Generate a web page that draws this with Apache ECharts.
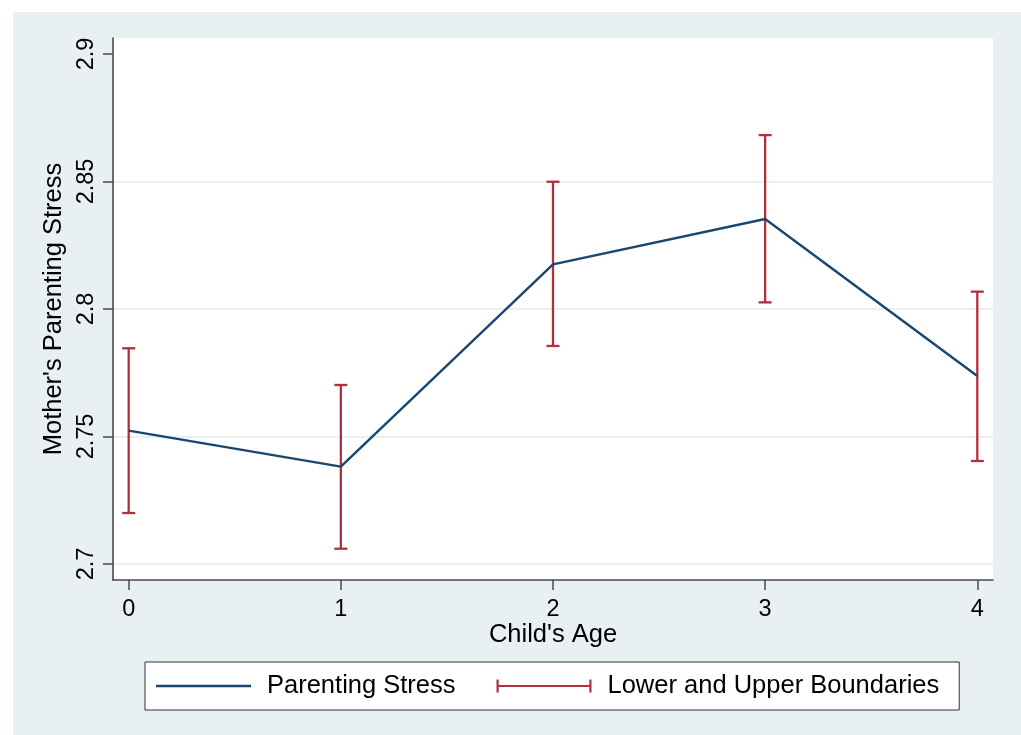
<!DOCTYPE html>
<html><head><meta charset="utf-8">
<script src="https://cdn.jsdelivr.net/npm/echarts@6/dist/echarts.min.js"></script>
<style>html,body{margin:0;padding:0;background:#fff}#c{width:1021px;height:735px}</style>
</head><body><div id="c"></div>
<script>
const ages = [0, 1, 2, 3, 4];
const stress = [2.7523, 2.7382, 2.8175, 2.8353, 2.7737];
const lower = [2.7200, 2.7060, 2.7855, 2.8026, 2.7404];
const upper = [2.7846, 2.7702, 2.8499, 2.8682, 2.8068];
const yTicks = [2.7, 2.75, 2.8, 2.85, 2.9];
const xTicks = [0, 1, 2, 3, 4];

const NAVY = '#1a476f', RED = '#b0303c', AXIS = '#4a4a4a', GRIDC = '#e2ebef', BG = '#e8f0f3';
const FONT = 'Liberation Sans, Arial, sans-serif';

const chart = echarts.init(document.getElementById('c'), null, {renderer: 'canvas'});
chart.setOption({
  animation: false,
  backgroundColor: '#ffffff',
  graphic: [{type: 'rect', silent: true, z: -10, shape: {x: 13, y: 12, width: 1008, height: 723}, style: {fill: BG}}],
  grid: {left: 113, right: 28, top: 38, bottom: 155, show: true, backgroundColor: '#ffffff', borderWidth: 0},
  xAxis: {
    type: 'value', min: -0.074, max: 4.074,
    name: "Child's Age", nameLocation: 'middle', nameGap: 42, nameMoveOverlap: false,
    nameTextStyle: {fontFamily: FONT, fontSize: 25.5, color: '#000'},
    axisLine: {show: true, onZero: false, lineStyle: {color: AXIS, width: 1.6}},
    axisTick: {show: true, length: 10, customValues: xTicks, lineStyle: {color: AXIS, width: 1.5}},
    axisLabel: {customValues: xTicks, margin: 18, fontFamily: FONT, fontSize: 23.5, color: '#000'},
    splitLine: {show: false}
  },
  yAxis: {
    type: 'value', min: 2.69373, max: 2.90627,
    name: "Mother's Parenting Stress", nameLocation: 'middle', nameGap: 44, nameRotate: 90,
    nameTextStyle: {fontFamily: FONT, fontSize: 25.5, color: '#000'},
    axisLine: {show: true, onZero: false, lineStyle: {color: AXIS, width: 1.6}},
    axisTick: {show: true, length: 10, customValues: yTicks, lineStyle: {color: AXIS, width: 1.5}},
    axisLabel: {customValues: yTicks, rotate: 90, margin: 14, fontFamily: FONT, fontSize: 23.5, color: '#000'},
    splitLine: {show: true, lineStyle: {color: [GRIDC, GRIDC, GRIDC, GRIDC, 'rgba(0,0,0,0)'], width: 1.5}}
  },
  legend: {
    left: 145, top: 662, orient: 'horizontal',
    padding: [11, 20, 11, 11], itemGap: 41, itemWidth: 95, itemHeight: 13,
    borderColor: '#333', borderWidth: 1, backgroundColor: '#ffffff',
    textStyle: {fontFamily: FONT, fontSize: 25.5, color: '#000', padding: [0, 0, 0, 11]},
    data: [
      {name: 'Parenting Stress', icon: 'path://M0,5.3h95v2.4h-95z'},
      {name: 'Lower and Upper Boundaries', icon: 'path://M0,0h2.2v13h-2.2z M0,5.4h95v2.2h-95z M92.8,0h2.2v13h-2.2z'}
    ]
  },
  series: [
    {
      name: 'Parenting Stress', type: 'line', symbol: 'none',
      data: ages.map((a, i) => [a, stress[i]]),
      lineStyle: {color: NAVY, width: 2.4}, itemStyle: {color: NAVY}
    },
    {
      name: 'Lower and Upper Boundaries', type: 'custom',
      itemStyle: {color: RED},
      encode: {x: 0, y: [1, 2]},
      data: ages.map((a, i) => [a, lower[i], upper[i]]),
      renderItem: function (params, api) {
        const x = api.value(0), lo = api.value(1), hi = api.value(2);
        const pLo = api.coord([x, lo]), pHi = api.coord([x, hi]);
        const hw = 6.5;
        const st = {stroke: RED, lineWidth: 2.3, fill: null};
        return {type: 'group', children: [
          {type: 'line', shape: {x1: pLo[0], y1: pLo[1], x2: pHi[0], y2: pHi[1]}, style: st},
          {type: 'line', shape: {x1: pLo[0] - hw, y1: pLo[1], x2: pLo[0] + hw, y2: pLo[1]}, style: st},
          {type: 'line', shape: {x1: pHi[0] - hw, y1: pHi[1], x2: pHi[0] + hw, y2: pHi[1]}, style: st}
        ]};
      }
    }
  ]
});
</script></body></html>
